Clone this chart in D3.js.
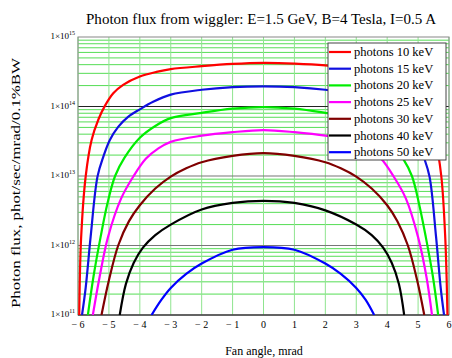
<!DOCTYPE html>
<html>
<head>
<meta charset="utf-8">
<script src="https://cdn.jsdelivr.net/npm/d3@7"></script>
<style>
  body { margin: 0; background: #fff; }
  svg { display: block; font-family: "Liberation Serif", "DejaVu Serif", serif; }
</style>
</head>
<body>
<svg id="chart" width="452" height="358"></svg>
<script>
// data (fan angle in mrad, flux in phot/sec/mrad/0.1%BW)
const angles10 = [-5.96, -5.9, -5.75, -5.56, -5.34, -5.13, -4.86, -4.54, -4, -3.46, -3, -2, -1, 0, 1, 2, 3, 3.46, 4, 4.54, 4.86, 5.13, 5.34, 5.56, 5.75, 5.88, 5.95];
const flux10   = [1e11, 1.26e12, 1.0e13, 3.3e13, 6.5e13, 1.02e14, 1.55e14, 2.05e14, 2.7e14, 3.15e14, 3.45e14, 3.8e14, 4.1e14, 4.25e14, 4.15e14, 3.9e14, 3.45e14, 3.15e14, 2.7e14, 2.05e14, 1.55e14, 1.02e14, 6.5e13, 3.3e13, 1.0e13, 1.26e12, 1e11];

const angles15 = [-5.87, -5.75, -5.59, -5.37, -5.18, -4.97, -4.7, -4.38, -4, -3.57, -3, -2, -1, 0, 1, 2, 3, 3.57, 4, 4.38, 4.7, 4.97, 5.18, 5.37, 5.58, 5.73, 5.84];
const flux15   = [1e11, 2.5e11, 1.35e12, 9.8e12, 1.9e13, 3.3e13, 5.1e13, 7.1e13, 9.1e13, 1.17e14, 1.48e14, 1.74e14, 1.9e14, 1.95e14, 1.9e14, 1.74e14, 1.48e14, 1.17e14, 9.1e13, 7.1e13, 5.1e13, 3.3e13, 1.9e13, 9.8e12, 1.35e12, 2.5e11, 1e11];

const angles20 = [-5.68, -5.5, -5.27, -5.05, -4.8, -4.5, -4, -3.5, -3, -2, -1, 0, 1, 2, 3, 3.5, 4, 4.5, 4.8, 5.03, 5.25, 5.48, 5.65];
const flux20   = [1e11, 3.55e11, 1.32e12, 4.0e12, 1.0e13, 1.82e13, 3.55e13, 5.25e13, 6.8e13, 8.1e13, 9.3e13, 9.8e13, 9.3e13, 8.1e13, 6.8e13, 5.25e13, 3.55e13, 1.82e13, 1.0e13, 4.0e12, 1.32e12, 3.55e11, 1e11];

const angles25 = [-5.52, -5.3, -5.03, -4.6, -4.2, -3.8, -3.4, -3, -2, -1, 0, 1, 2, 3, 3.4, 3.8, 4.2, 4.6, 5.0, 5.27, 5.45];
const flux25   = [1e11, 3.55e11, 1.32e12, 4.8e12, 1.0e13, 1.78e13, 2.5e13, 3.1e13, 3.8e13, 4.27e13, 4.57e13, 4.27e13, 3.8e13, 3.1e13, 2.5e13, 1.78e13, 1.0e13, 4.8e12, 1.32e12, 3.55e11, 1e11];

const angles30 = [-5.24, -5, -4.7, -4.35, -4, -3.5, -3, -2.5, -2, -1, 0, 1, 2, 2.5, 3, 3.5, 4, 4.33, 4.67, 4.97, 5.2];
const flux30   = [1e11, 3.16e11, 1.0e12, 2.24e12, 3.8e12, 6.6e12, 9.8e12, 1.29e13, 1.58e13, 1.95e13, 2.14e13, 1.95e13, 1.58e13, 1.29e13, 9.8e12, 6.6e12, 3.8e12, 2.24e12, 1.0e12, 3.16e11, 1e11];

const angles40 = [-4.65, -4.45, -4.2, -3.9, -3.5, -3, -2, -1, 0, 1, 2, 3, 3.5, 3.87, 4.15, 4.38, 4.55];
const flux40   = [1e11, 2.8e11, 5.6e11, 9.3e11, 1.41e12, 2.0e12, 3.3e12, 4.1e12, 4.4e12, 4.1e12, 3.2e12, 2.0e12, 1.41e12, 9.3e11, 5.6e11, 2.8e11, 1e11];

const angles50 = [-3.62, -3.3, -3, -2.5, -2, -1, 0, 1, 2, 2.5, 3, 3.3, 3.58];
const flux50   = [1e11, 1.66e11, 2.45e11, 3.9e11, 5.5e11, 8.7e11, 9.5e11, 8.7e11, 5.5e11, 3.9e11, 2.45e11, 1.66e11, 1e11];

const seriesNames = ["photons 10 keV", "photons 15 keV", "photons 20 keV", "photons 25 keV", "photons 30 keV", "photons 40 keV", "photons 50 keV"];
const seriesColors = ["#ff0000", "#1010e0", "#00ee00", "#ff00ff", "#800000", "#000000", "#0000ff"];
const xTicks = [-6, -5, -4, -3, -2, -1, 0, 1, 2, 3, 4, 5, 6];
const yDecades = [1e11, 1e12, 1e13, 1e14, 1e15];
const yExponents = ["11", "12", "13", "14", "15"];

const series = [
  [angles10, flux10], [angles15, flux15], [angles20, flux20], [angles25, flux25],
  [angles30, flux30], [angles40, flux40], [angles50, flux50]
].map((s, i) => ({
  name: seriesNames[i],
  color: seriesColors[i],
  points: s[0].map((a, j) => ({ a: a, f: s[1][j] }))
}));

const svg = d3.select('#chart');
const margin = {top: 37, right: 3, bottom: 43, left: 78};
const width = 452 - margin.left - margin.right;
const height = 358 - margin.top - margin.bottom;

const x = d3.scaleLinear().domain([-6, 6]).range([margin.left, margin.left + width]);
const y = d3.scaleLog().domain([1e11, 1e15]).range([margin.top + height, margin.top]);

// title
svg.append('text')
  .attr('x', 261).attr('y', 24)
  .attr('text-anchor', 'middle')
  .attr('font-size', 15)
  .attr('textLength', 350)
  .attr('lengthAdjust', 'spacingAndGlyphs')
  .text('Photon flux from wiggler: E=1.5 GeV, B=4 Tesla, I=0.5 A');

// grid
const grid = svg.append('g');
grid.selectAll('line.minor')
  .data(y.ticks().filter(v => !yDecades.includes(v)))
  .enter().append('line')
  .attr('x1', x(-6)).attr('x2', x(6))
  .attr('y1', d => y(d)).attr('y2', d => y(d))
  .attr('stroke', '#55dd55').attr('stroke-width', 1);
grid.selectAll('line.vert')
  .data(xTicks)
  .enter().append('line')
  .attr('x1', d => x(d)).attr('x2', d => x(d))
  .attr('y1', y(1e15)).attr('y2', y(1e11))
  .attr('stroke', '#8fe48f').attr('stroke-width', 1);
grid.selectAll('line.major')
  .data(yDecades.slice(1, 4))
  .enter().append('line')
  .attr('x1', x(-6)).attr('x2', x(6))
  .attr('y1', d => y(d)).attr('y2', d => y(d))
  .attr('stroke', d => d === 1e14 ? '#222' : '#777').attr('stroke-width', 1.2);

// frame
svg.append('rect')
  .attr('x', x(-6)).attr('y', y(1e15))
  .attr('width', x(6) - x(-6)).attr('height', y(1e11) - y(1e15))
  .attr('fill', 'none').attr('stroke', '#888').attr('stroke-width', 1);
svg.append('line')
  .attr('x1', x(-6)).attr('x2', x(6)).attr('y1', y(1e11)).attr('y2', y(1e11))
  .attr('stroke', '#444').attr('stroke-width', 1.5);

// curves
svg.append('clipPath').attr('id', 'clip')
  .append('rect')
  .attr('x', x(-6)).attr('y', y(1e15))
  .attr('width', x(6) - x(-6)).attr('height', y(1e11) - y(1e15));

const line = d3.line()
  .x(d => x(d.a))
  .y(d => y(d.f))
  .curve(d3.curveCatmullRom.alpha(0.5));

svg.append('g').attr('clip-path', 'url(#clip)')
  .selectAll('path')
  .data(series)
  .enter().append('path')
  .attr('fill', 'none')
  .attr('stroke', d => d.color)
  .attr('stroke-width', 2.2)
  .attr('d', d => line(d.points));

// x axis labels
svg.append('g')
  .selectAll('text')
  .data(xTicks)
  .enter().append('text')
  .attr('x', d => x(d))
  .attr('y', y(1e11) + 13)
  .attr('text-anchor', 'middle')
  .attr('font-size', 10)
  .text(d => d < 0 ? '\u2212 ' + Math.abs(d) : d);

// y axis labels
const yl = svg.append('g')
  .selectAll('text')
  .data(yDecades)
  .enter().append('text')
  .attr('x', margin.left - 3)
  .attr('y', d => y(d) + 2)
  .attr('text-anchor', 'end')
  .attr('font-size', 9);
yl.append('tspan').text('1\u00d710');
yl.append('tspan')
  .attr('dy', -4)
  .attr('font-size', 6)
  .text((d, i) => yExponents[i]);

// axis titles
svg.append('text')
  .attr('x', 264).attr('y', 355)
  .attr('text-anchor', 'middle')
  .attr('font-size', 12)
  .text('Fan angle, mrad');
svg.append('text')
  .attr('transform', 'translate(20,183) rotate(-90)')
  .attr('text-anchor', 'middle')
  .attr('font-size', 13)
  .attr('textLength', 250)
  .attr('lengthAdjust', 'spacingAndGlyphs')
  .text('Photon flux, phot/sec/mrad/0.1%BW');

// legend
const legend = svg.append('g').attr('transform', 'translate(328,43)');
legend.append('rect')
  .attr('width', 118).attr('height', 117)
  .attr('fill', '#fff').attr('stroke', '#444').attr('stroke-width', 1);
const item = legend.selectAll('g.item')
  .data(series)
  .enter().append('g')
  .attr('transform', (d, i) => 'translate(0,' + (9 + i * 16.7) + ')');
item.append('line')
  .attr('x1', 1).attr('x2', 23)
  .attr('stroke', d => d.color).attr('stroke-width', 2.2);
item.append('text')
  .attr('x', 26).attr('y', 4)
  .attr('font-size', 12.5)
  .text(d => d.name);
</script>
</body>
</html>
